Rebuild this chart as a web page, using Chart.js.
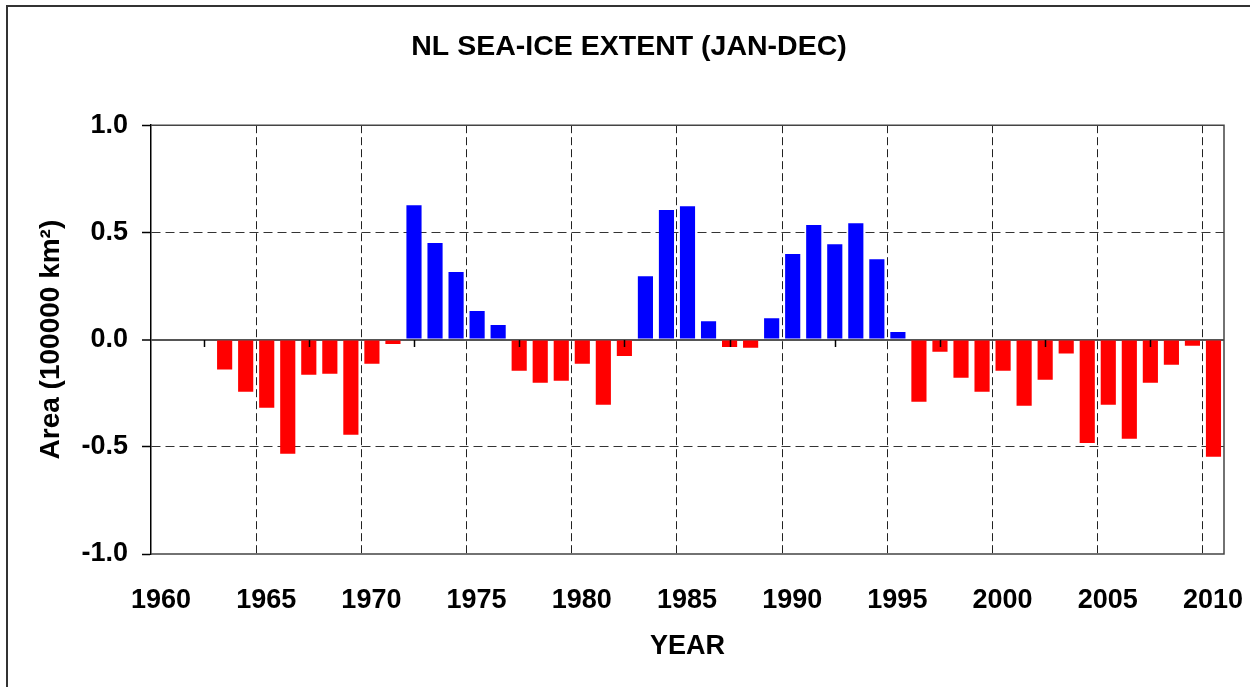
<!DOCTYPE html>
<html>
<head>
<meta charset="utf-8">
<title>NL sea-ice extent</title>
<script src="https://cdn.jsdelivr.net/npm/chart.js@4.4.1/dist/chart.umd.min.js"></script>
<style>
html, body { margin: 0; padding: 0; background: #fff; }
#wrap { position: relative; width: 1250px; height: 687px; overflow: hidden; }
#frame { position: absolute; left: 6px; top: 5px; width: 1300px; height: 720px; border-top: 2px solid #333; border-left: 2px solid #333; }
canvas { position: absolute; left: 0; top: 0; }
</style>
</head>
<body>
<div id="wrap">
  <div id="frame"></div>
  <canvas id="iceChart" width="1250" height="687"></canvas>
</div>
<script>
// annual sea-ice extent anomaly, 1960-2010 (no data before 1963)
const years = [1960, 1961, 1962, 1963, 1964, 1965, 1966, 1967, 1968, 1969,
               1970, 1971, 1972, 1973, 1974, 1975, 1976, 1977, 1978, 1979,
               1980, 1981, 1982, 1983, 1984, 1985, 1986, 1987, 1988, 1989,
               1990, 1991, 1992, 1993, 1994, 1995, 1996, 1997, 1998, 1999,
               2000, 2001, 2002, 2003, 2004, 2005, 2006, 2007, 2008, 2009,
               2010];
const extent = [null, null, null, -0.14, -0.243, -0.318, -0.532, -0.164, -0.159, -0.444,
                -0.113, -0.02, 0.627, 0.45, 0.315, 0.133, 0.068, -0.145, -0.201, -0.192,
                -0.113, -0.304, -0.076, 0.296, 0.604, 0.622, 0.086, -0.034, -0.038, 0.1,
                0.399, 0.534, 0.445, 0.543, 0.375, 0.035, -0.29, -0.057, -0.178, -0.243,
                -0.145, -0.308, -0.187, -0.065, -0.482, -0.304, -0.463, -0.201, -0.117, -0.029,
                -0.546];
const xTicks = [1960, 1965, 1970, 1975, 1980, 1985, 1990, 1995, 2000, 2005, 2010];
const yTicks = [-1.0, -0.5, 0.0, 0.5, 1.0];

const family = 'Arial, "Liberation Sans", sans-serif';
const bold = { family: family, size: 27, weight: 'bold' };

// top/right/bottom frame of the plot + the little ticks under the zero line
const plotFrame = {
    id: 'plotFrame',
    afterDatasetsDraw(chart) {
        const { ctx, chartArea: a, scales } = chart;
        const y0 = Math.round(scales.y.getPixelForValue(0));
        ctx.save();
        ctx.strokeStyle = '#000';
        ctx.lineWidth = 1.5;
        years.forEach(function (yr, i) {
            if ((yr - 1962) % 5 !== 0) return;
            const px = Math.round(scales.x.getPixelForValue(i)) + 0.5;
            ctx.beginPath();
            ctx.moveTo(px, y0);
            ctx.lineTo(px, y0 + 7);
            ctx.stroke();
        });
        ctx.strokeStyle = '#444';
        ctx.beginPath();
        ctx.moveTo(a.left, a.top);
        ctx.lineTo(a.right, a.top);
        ctx.lineTo(a.right, a.bottom);
        ctx.lineTo(a.left, a.bottom);
        ctx.stroke();
        ctx.restore();
    }
};

new Chart(document.getElementById('iceChart'), {
    type: 'bar',
    data: {
        labels: years,
        datasets: [{
            data: extent,
            backgroundColor: function (c) { return c.raw >= 0 ? '#0000ff' : '#ff0000'; },
            borderWidth: 0,
            barPercentage: 0.72,
            categoryPercentage: 1.0
        }]
    },
    options: {
        responsive: false,
        animation: false,
        devicePixelRatio: 1,
        layout: { padding: { left: 34, right: 26, top: 0, bottom: 24 } },
        plugins: {
            legend: { display: false },
            tooltip: { enabled: false },
            title: {
                display: true,
                text: 'NL SEA-ICE EXTENT (JAN-DEC)',
                font: { family: family, size: 28.5, weight: 'bold' },
                color: '#000',
                padding: { top: 30, bottom: 61 }
            }
        },
        scales: {
            x: {
                type: 'category',
                display: false,
                offset: true,
                grid: { offset: true }
            },
            x2: {
                type: 'linear',
                position: 'bottom',
                min: 1960,
                max: 2011,
                offset: false,
                afterBuildTicks: function (s) { s.ticks = xTicks.map(function (v) { return { value: v }; }); },
                afterFit: function (s) {
                    s.height = 109;
                    s.paddingLeft = 0;
                    s.paddingRight = 0;
                },
                grid: {
                    offset: false,
                    color: function (c) { return c.tick && c.tick.value === 1960 ? 'rgba(0,0,0,0)' : '#222'; },
                    lineWidth: 1,
                    drawTicks: false
                },
                border: { display: false, dash: [8, 4] },
                ticks: {
                    font: bold,
                    color: '#000',
                    padding: 30,
                    labelOffset: 10,
                    maxRotation: 0,
                    autoSkip: false,
                    callback: function (v) { return String(v); }
                },
                title: { display: true, text: 'YEAR', font: bold, color: '#000', padding: 0 }
            },
            y: {
                min: -1,
                max: 1,
                afterBuildTicks: function (s) { s.ticks = yTicks.map(function (v) { return { value: v }; }); },
                afterFit: function (s) { s.width = 151 - 34; },
                grid: {
                    color: function (c) {
                        if (!c.tick || Math.abs(c.tick.value) === 1) return 'rgba(0,0,0,0)';
                        return c.tick.value === 0 ? '#555' : '#333';
                    },
                    lineWidth: function (c) { return c.tick && c.tick.value === 0 ? 2 : 1; },
                    tickColor: '#000',
                    tickLength: 9,
                    tickWidth: 1.5
                },
                border: {
                    color: '#000',
                    width: 1.5,
                    dash: function (c) { return c.tick && c.tick.value === 0 ? [] : [9, 5]; }
                },
                ticks: {
                    font: bold,
                    color: '#000',
                    padding: 14,
                    callback: function (v) { return v.toFixed(1); }
                },
                title: {
                    display: true,
                    text: 'Area (100000 km²)',
                    font: { family: family, size: 28, weight: 'bold' },
                    color: '#000',
                    padding: 0
                }
            }
        }
    },
    plugins: [plotFrame]
});
</script>
</body>
</html>
